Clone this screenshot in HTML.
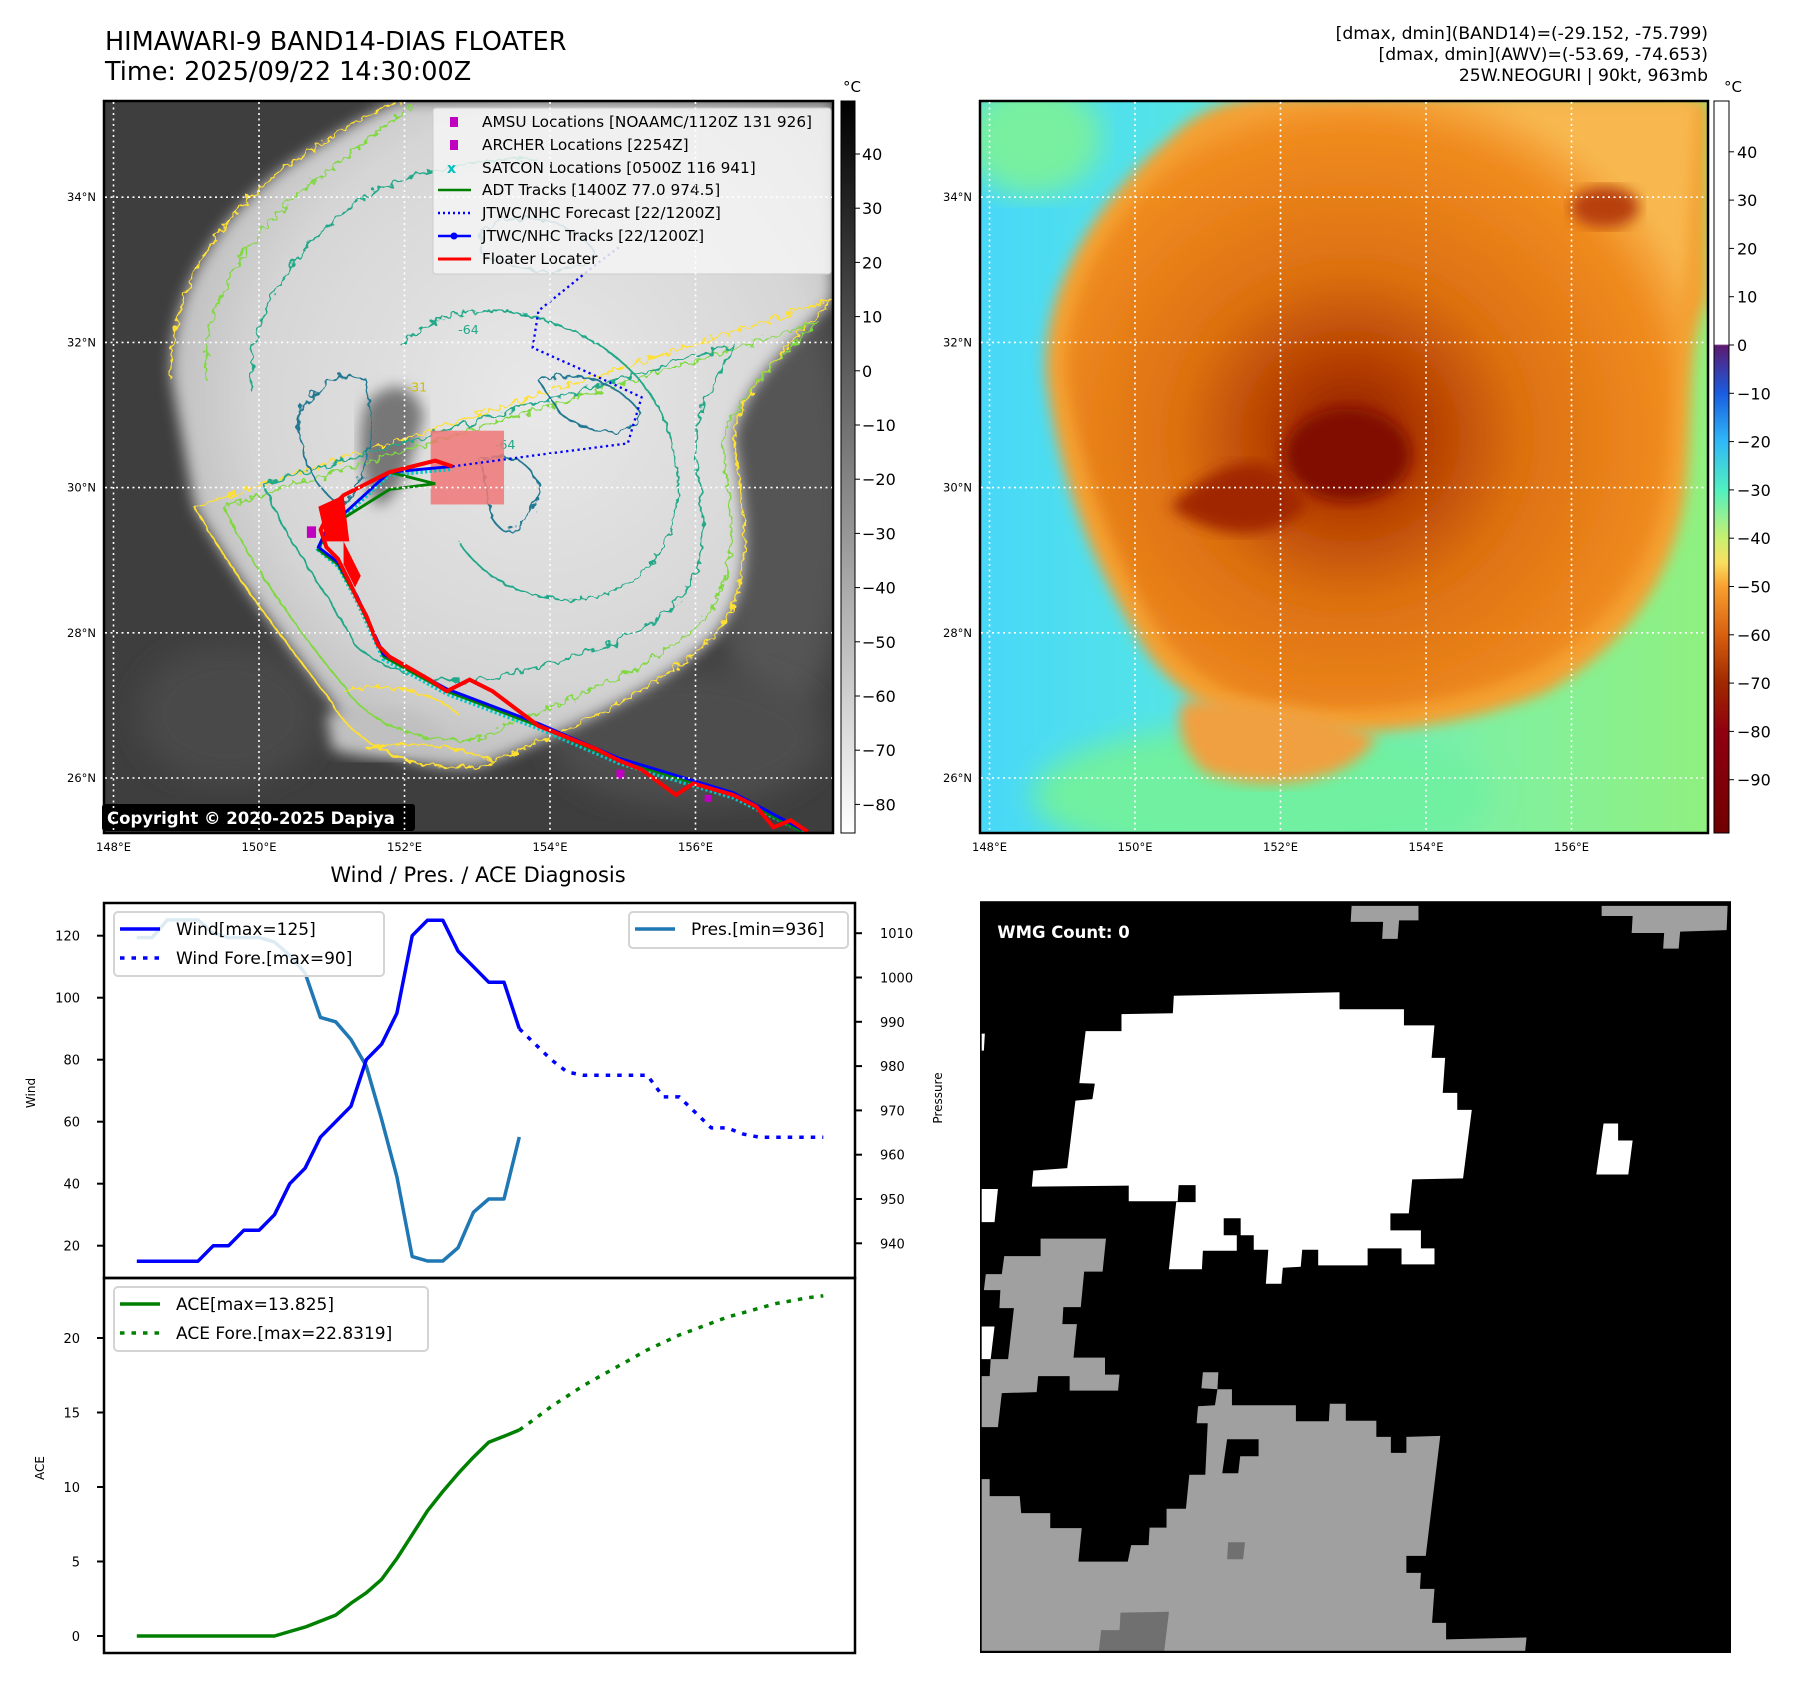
<!DOCTYPE html>
<html><head><meta charset="utf-8"><style>
html,body{margin:0;padding:0;background:#fff;}
svg{display:block;font-family:"DejaVu Sans","Liberation Sans",sans-serif;}
</style></head><body>
<svg id="root" width="1797" height="1690" viewBox="0 0 1797 1690" xmlns="http://www.w3.org/2000/svg">
<defs>
<filter id="blur6"><feGaussianBlur stdDeviation="6"/></filter>
<filter id="blur12"><feGaussianBlur stdDeviation="12"/></filter>
<filter id="jag"><feTurbulence type="fractalNoise" baseFrequency="0.15" numOctaves="2" seed="3"/><feDisplacementMap in="SourceGraphic" scale="9"/></filter>
<filter id="jag2"><feTurbulence type="fractalNoise" baseFrequency="0.12" numOctaves="2" seed="8"/><feDisplacementMap in="SourceGraphic" scale="10"/></filter>
<linearGradient id="cbGray" x1="0" y1="0" x2="0" y2="1"><stop offset="0" stop-color="#000"/><stop offset="1" stop-color="#fff"/></linearGradient>
<linearGradient id="cbColor" x1="0" y1="0" x2="0" y2="1">
<stop offset="0" stop-color="#fff"/><stop offset="0.332" stop-color="#fff"/>
<stop offset="0.334" stop-color="#5c1a70"/><stop offset="0.399" stop-color="#1a5ce0"/>
<stop offset="0.465" stop-color="#30b8f8"/><stop offset="0.531" stop-color="#50f0c0"/>
<stop offset="0.597" stop-color="#c8f070"/><stop offset="0.63" stop-color="#f8e060"/>
<stop offset="0.663" stop-color="#f8a030"/><stop offset="0.729" stop-color="#d86010"/>
<stop offset="0.795" stop-color="#a02800"/><stop offset="0.861" stop-color="#900010"/>
<stop offset="1" stop-color="#700000"/></linearGradient>
<radialGradient id="cloudGray" cx="0.55" cy="0.45" r="0.6"><stop offset="0" stop-color="#e8e8e8"/><stop offset="0.7" stop-color="#d6d6d6"/><stop offset="1" stop-color="#b8b8b8"/></radialGradient>
<radialGradient id="cloudOr" cx="0.45" cy="0.55" r="0.6"><stop offset="0" stop-color="#8a1a00"/><stop offset="0.18" stop-color="#b03a00"/><stop offset="0.45" stop-color="#dc7010"/><stop offset="0.85" stop-color="#f08c20"/><stop offset="1" stop-color="#f8b850"/></radialGradient>
<linearGradient id="bgRight" x1="0" y1="0" x2="1" y2="0"><stop offset="0" stop-color="#48d8f8"/><stop offset="0.35" stop-color="#58e8e0"/><stop offset="0.7" stop-color="#80f0a0"/><stop offset="1" stop-color="#90f080"/></linearGradient>
<clipPath id="clipL"><rect x="91" y="88" width="636" height="635"/></clipPath>
<clipPath id="clipR"><rect x="854" y="88" width="636" height="635"/></clipPath>
</defs>

<text x="105" y="50" font-size="25.5">HIMAWARI-9 BAND14-DIAS FLOATER</text>
<text x="105" y="80" font-size="25.5">Time: 2025/09/22 14:30:00Z</text>
<g font-size="17.2" text-anchor="end">
<text x="1708" y="39">[dmax, dmin](BAND14)=(-29.152, -75.799)</text>
<text x="1708" y="60">[dmax, dmin](AWV)=(-53.69, -74.653)</text>
<text x="1708" y="81">25W.NEOGURI | 90kt, 963mb</text>
</g>

<svg x="104" y="101" width="729" height="732" viewBox="91 88 636 635" preserveAspectRatio="none">
<g clip-path="url(#clipL)">
<rect x="91" y="88" width="636" height="635" fill="#3e3e3e"/>
<ellipse cx="680" cy="430" rx="60" ry="200" fill="#555" filter="url(#blur12)"/>
<ellipse cx="600" cy="640" rx="120" ry="60" fill="#4e4e4e" filter="url(#blur12)"/>
<ellipse cx="200" cy="620" rx="80" ry="60" fill="#484848" filter="url(#blur12)"/>
<path d="M150,330 C145,250 200,175 265,135 C300,112 330,95 350,88 L727,88 L727,260 C690,300 650,330 640,380 C650,450 665,520 610,565 C555,610 480,640 420,665 C370,672 310,650 290,610 C260,570 210,510 170,440 Z" fill="url(#cloudGray)" filter="url(#blur6)"/>
<path d="M285,620 C320,612 370,612 390,640 C380,660 320,662 290,650 Z" fill="#c0c0c0" filter="url(#blur6)"/>
<path d="M320,350 C340,330 360,330 370,360 C360,400 350,430 330,440 C315,420 310,380 320,350Z" fill="#777" filter="url(#blur6)"/>
<g fill="none" stroke-width="1.6">
<path d="M150,330 C145,250 200,175 265,135 C300,112 330,95 350,88 M727,260 C690,300 650,330 640,380 C650,450 665,520 610,565 C555,610 480,640 420,665 C370,672 310,650 290,610 C260,570 210,510 170,440 Z" stroke="#ffe033" filter="url(#jag)"/>
<path d="M180,330 C175,260 225,190 285,150 C310,130 340,105 360,92 M715,280 C680,310 645,340 630,385 C640,450 650,510 600,550 C545,595 480,610 420,640 C380,650 320,630 300,595 C270,560 225,500 195,440 Z" stroke="#80d840" filter="url(#jag)"/>
<path d="M220,340 C215,270 260,210 320,170 C360,150 420,135 470,140 M640,300 C620,340 600,360 610,420 C620,480 610,520 560,545 C520,570 460,580 420,590 C380,595 330,580 310,560 C290,520 250,470 230,420 Z" stroke="#20a888" filter="url(#jag2)"/>
<path d="M350,300 C380,270 430,260 480,280 C540,300 580,340 590,400 C600,460 570,510 510,520 C460,525 420,500 400,470" stroke="#20a888" filter="url(#jag)"/>
<path d="M260,360 C280,330 300,320 320,330 C330,380 320,420 300,440 C280,430 260,400 260,360Z M420,200 C450,180 500,190 520,220 C500,240 460,240 420,220Z M470,330 C500,320 540,330 560,360 C550,380 520,380 490,360Z M420,400 C440,390 470,400 470,430 C460,460 440,470 430,450Z" stroke="#207890" filter="url(#jag2)"/>
<path d="M300,600 C330,590 380,600 400,620 M320,650 C360,640 400,650 430,660" stroke="#ffe033" filter="url(#jag)"/>
</g>
<g font-size="11" fill="#20a888"><text x="400" y="290">-64</text><text x="432" y="390">-64</text><text x="355" y="340" fill="#ccc000">-31</text></g>
<rect x="376" y="374" width="64" height="64" fill="#f07878" opacity="0.85"/>
<polyline points="395,405 470,395 548,385 560,345 510,322 465,302 470,270 520,230 540,215" fill="none" stroke="#0000ff" stroke-width="2" stroke-dasharray="2 3"/>
<polyline points="702,722 640,692 540,662 470,632 390,602 335,572 312,522 296,492 278,477 285,462 340,412 395,407" fill="none" stroke="#00c8c8" stroke-width="4" stroke-dasharray="2 2"/>
<polyline points="700,722 640,690 540,660 470,630 390,600 335,570 312,520 295,490 278,477 287,458 340,425 380,420 340,410" fill="none" stroke="#008000" stroke-width="2.5"/>
<polyline points="700,720 640,688 540,658 470,628 390,598 335,568 312,518 295,488 278,475 285,460 340,410 395,405" fill="none" stroke="#0000ff" stroke-width="2.5"/>
<polyline points="705,722 690,712 675,718 660,700 640,690 605,680 590,690 560,668 540,660 520,650 470,630 430,600 410,590 390,600 375,590 340,570 330,560 320,535 312,520 305,505 295,485 285,475 280,460 290,440 300,430 340,410 380,400 395,405" fill="none" stroke="#ff0000" stroke-width="3.5"/>
<path d="M278,440 L300,430 L305,470 L285,470 Z M300,470 L315,500 L310,510 L300,490Z" fill="#ff0000"/>
<rect x="268" y="457" width="8" height="10" fill="#c000c0"/><rect x="538" y="668" width="7" height="8" fill="#c000c0"/><rect x="615" y="690" width="6" height="6" fill="#c000c0"/>
</g>
</svg>
<rect x="104" y="101" width="729" height="732" fill="none" stroke="#000" stroke-width="2.5"/>

<svg x="980" y="101" width="728" height="732" viewBox="854 88 636 635" preserveAspectRatio="none">
<g clip-path="url(#clipR)">
<rect x="854" y="88" width="636" height="635" fill="url(#bgRight)"/>
<ellipse cx="1100" cy="690" rx="200" ry="60" fill="#70f0a0" filter="url(#blur12)"/>
<ellipse cx="900" cy="120" rx="60" ry="50" fill="#78f0a0" filter="url(#blur12)"/>
<path d="M912,330 C905,250 960,170 1020,120 C1040,100 1060,92 1080,88 L1490,88 L1490,260 C1470,300 1478,360 1470,430 C1460,500 1420,560 1350,600 C1280,630 1200,640 1120,635 C1060,630 1010,590 990,550 C960,500 925,430 912,330 Z" fill="#f4a030" filter="url(#blur6)"/>
<path d="M930,330 C925,250 975,180 1035,130 C1060,108 1080,95 1100,88 L1480,88 L1470,250 C1455,300 1462,360 1452,430 C1440,495 1400,545 1340,580 C1270,612 1195,620 1125,615 C1070,610 1025,575 1005,540 C978,495 945,425 930,330 Z" fill="url(#cloudOr)" filter="url(#blur6)"/>
<path d="M1030,610 C1080,600 1160,620 1200,640 C1180,680 1100,690 1050,670 C1030,650 1025,630 1030,610Z" fill="#f0a040" filter="url(#blur6)"/>
<ellipse cx="1175" cy="395" rx="55" ry="40" fill="#801000" filter="url(#blur6)"/>
<path d="M1020,440 C1060,400 1110,380 1140,440 C1110,470 1060,470 1020,440Z" fill="#a02800" filter="url(#blur6)"/>
<ellipse cx="1400" cy="180" rx="30" ry="18" fill="#b84010" filter="url(#blur6)"/>
</g>
</svg>
<rect x="980" y="101" width="728" height="732" fill="none" stroke="#000" stroke-width="2.5"/>

<g>
<rect x="433" y="108" width="398" height="166" rx="3" fill="#f4f4f4" fill-opacity="0.85" stroke="#ccc"/>
<g font-size="15.3">
<rect x="450" y="117" width="8" height="10" fill="#c000c0"/><text x="482" y="127">AMSU Locations [NOAAMC/1120Z 131 926]</text>
<rect x="450" y="140" width="8" height="10" fill="#c000c0"/><text x="482" y="150">ARCHER Locations [2254Z]</text>
<text x="447" y="173" fill="#00c0c0" font-size="14" font-weight="bold">x</text><text x="482" y="173">SATCON Locations [0500Z 116 941]</text>
<line x1="438" y1="190" x2="471" y2="190" stroke="#008000" stroke-width="2.5"/><text x="482" y="195">ADT Tracks [1400Z 77.0 974.5]</text>
<line x1="438" y1="213" x2="471" y2="213" stroke="#0000ff" stroke-width="2.5" stroke-dasharray="2 3"/><text x="482" y="218">JTWC/NHC Forecast [22/1200Z]</text>
<line x1="438" y1="236" x2="471" y2="236" stroke="#0000ff" stroke-width="2.5"/><circle cx="454" cy="236" r="3.5" fill="#0000ff"/><text x="482" y="241">JTWC/NHC Tracks [22/1200Z]</text>
<line x1="438" y1="259" x2="471" y2="259" stroke="#ff0000" stroke-width="3"/><text x="482" y="264">Floater Locater</text>
</g></g>

<rect x="102" y="804" width="313" height="27" rx="3" fill="#000"/>
<text x="107" y="824" font-size="16.5" font-weight="bold" fill="#fff">Copyright © 2020-2025 Dapiya</text>

<g id="mapGrid"></g>
<g id="cbars"></g>

<text x="478" y="882" font-size="21" text-anchor="middle">Wind / Pres. / ACE Diagnosis</text>
<g id="chart"></g>

<svg x="980" y="900" width="751" height="753" viewBox="0 0 1550 1550" preserveAspectRatio="none">
<rect x="0" y="5" width="1548" height="1543" fill="#000"/>
<g fill="#fff">
<polygon points="400,197 742,190 742,225 875,225 875,258 938,258 932,325 960,325 955,397 985,397 985,432 1015,432 997,573 892,575 885,645 847,645 847,680 910,680 910,717 938,717 938,750 870,750 870,717 800,717 800,752 698,752 698,720 665,720 662,755 625,757 622,790 590,790 595,720 565,720 565,690 538,690 538,655 503,655 503,690 530,690 530,722 460,722 458,760 390,760 405,622 445,622 445,587 410,587 408,620 307,620 307,588 107,590 110,557 180,552 197,413 232,410 237,378 205,377 218,270 292,270 292,235 398,233"/>
<polygon points="1287,460 1317,460 1317,495 1347,495 1338,565 1272,565"/>
<polygon points="0,595 37,595 30,663 0,663"/>
<polygon points="0,878 30,878 22,945 0,945"/>
<polygon points="0,275 10,275 8,310 0,310"/>
</g>
<g fill="#a0a0a0">
<polygon points="767,12 905,12 905,42 865,42 862,80 830,80 832,45 765,45"/>
<polygon points="1283,12 1543,12 1541,62 1445,65 1442,100 1410,100 1412,68 1345,68 1347,33 1283,33"/>
<polygon points="125,697 260,697 253,765 215,765 208,838 172,838 170,873 200,873 193,942 258,942 258,977 288,977 285,1010 185,1010 185,980 120,980 117,1013 45,1015 37,1085 0,1085 0,980 20,980 22,945 58,945 70,840 40,840 42,803 8,803 12,770 45,770 50,733 125,733"/>
<polygon points="0,1192 20,1192 20,1227 82,1227 85,1262 145,1262 145,1293 210,1293 203,1362 305,1362 312,1328 348,1328 350,1292 385,1292 385,1253 425,1253 432,1183 465,1183 470,1077 447,1077 450,1042 485,1040 490,1007 457,1005 460,972 492,972 490,1007 520,1007 520,1040 652,1040 652,1073 720,1073 722,1037 755,1037 755,1072 818,1072 818,1105 848,1105 848,1138 880,1138 880,1105 950,1103 920,1350 880,1350 880,1385 910,1385 908,1418 938,1418 933,1488 962,1488 962,1522 1128,1518 1125,1548 0,1548"/>
</g>
<polygon points="510,1110 575,1110 575,1145 537,1145 533,1180 500,1180" fill="#000"/>
<g fill="#707070"><polygon points="512,1322 547,1322 543,1357 510,1357"/><polygon points="290,1467 390,1465 380,1548 245,1548 250,1503 288,1503"/></g>
<rect x="1" y="5" width="1547" height="1543" fill="none" stroke="#000" stroke-width="5"/>
<text x="36" y="78" font-size="34" font-weight="bold" fill="#fff">WMG Count: 0</text>
</svg>
</svg>

<script>
const windObs = [15,15,15,15,15,20,20,25,25,30,40,45,55,60,65,80,85,95,120,125,125,115,110,105,105,90];
const windFcst = [90,85,80,76,75,75,75,75,75,68,68,63,58,58,56,55,55,55,55,55];
const presObs = [1009,1009,1013,1013,1013,1010,1009,1009,1009,1008,1005,1001,991,990,986,980,968,955,937,936,936,939,947,950,950,964];
const aceObs = [0,0,0,0,0,0,0,0,0,0,0.3,0.6,1.0,1.4,2.2,2.9,3.8,5.2,6.8,8.4,9.7,10.9,12.0,13.0,13.4,13.825];
const aceFcst = [13.825,14.6,15.4,16.1,16.8,17.4,18.0,18.6,19.2,19.7,20.2,20.6,21.0,21.4,21.7,22.0,22.3,22.5,22.7,22.83];
const windTicks = [20,40,60,80,100,120];
const presTicks = [940,950,960,970,980,990,1000,1010];
const aceTicks = [0,5,10,15,20];
const lonTicks = [148,150,152,154,156];
const latTicks = [26,28,30,32,34];
const cbGrayTicks = [40,30,20,10,0,-10,-20,-30,-40,-50,-60,-70,-80];
const cbColorTicks = [40,30,20,10,0,-10,-20,-30,-40,-50,-60,-70,-80,-90];

const NS = 'http://www.w3.org/2000/svg';
function mk(tag, attrs, parent, txt){const e=document.createElementNS(NS,tag);for(const k in attrs)e.setAttribute(k,attrs[k]);if(txt!==undefined)e.textContent=txt;parent.appendChild(e);return e;}

const xI = i => i <= 25 ? 136.8 + i*15.3 : 519.3 + (i-25)*16.0;
const yW = v => 1245.7 - (v-20)*3.1;
const yP = p => 1243.3 - (p-940)*4.43;
const yA = v => 1636 - v*14.9;
const lonX = (lon, off) => 113.5 + (lon-148)*72.75 + off;
const latY = lat => 778 - (lat-26)*72.6;
const cbGY = v => 154 - (v-40)*5.42;
const cbCY = v => 345 - v*4.83;

const chart = document.getElementById('chart');
let f1 = mk('rect',{x:104,y:903,width:751,height:375,fill:'none',stroke:'#000','stroke-width':2.5},chart);


let f2 = mk('rect',{x:104,y:1278,width:751,height:375,fill:'none',stroke:'#000','stroke-width':2.5},chart);



function pts(arr, off, yf){return arr.map((v,i)=>xI(i+off).toFixed(1)+','+yf(v).toFixed(1)).join(' ');}

windTicks.forEach(v=>{
  mk('line',{x1:97,x2:104,y1:yW(v),y2:yW(v),stroke:'#000','stroke-width':2},chart);
  const t=mk('text',{x:80,y:yW(v)+5,'font-size':13,'text-anchor':'end'},chart,String(v));
  
  
});
presTicks.forEach(v=>{
  mk('line',{x1:855,x2:862,y1:yP(v),y2:yP(v),stroke:'#000','stroke-width':2},chart);
  const t=mk('text',{x:880,y:yP(v)+5,'font-size':13},chart,String(v));
  
  
});
aceTicks.forEach(v=>{
  mk('line',{x1:97,x2:104,y1:yA(v),y2:yA(v),stroke:'#000','stroke-width':2},chart);
  const t=mk('text',{x:80,y:yA(v)+5,'font-size':13,'text-anchor':'end'},chart,String(v));
  
  
});
let yl1=mk('text',{x:0,y:0,'font-size':12,'text-anchor':'middle',transform:'translate(35,1093) rotate(-90)'},chart,'Wind');


let yl2=mk('text',{x:0,y:0,'font-size':12,'text-anchor':'middle',transform:'translate(942,1098) rotate(-90)'},chart,'Pressure');


let yl3=mk('text',{x:0,y:0,'font-size':12,'text-anchor':'middle',transform:'translate(44,1468) rotate(-90)'},chart,'ACE');



let lp=mk('polyline',{points:pts(presObs,0,yP),fill:'none',stroke:'#1f77b4','stroke-width':3.5,'stroke-linejoin':'round'},chart);


let lw=mk('polyline',{points:pts(windObs,0,yW),fill:'none',stroke:'#0000ff','stroke-width':3.5,'stroke-linejoin':'round'},chart);


let lwf=mk('polyline',{points:pts(windFcst,windObs.length-1,yW),fill:'none',stroke:'#0000ff','stroke-width':3.5,'stroke-dasharray':'4.5 7'},chart);


let la=mk('polyline',{points:pts(aceObs,0,yA),fill:'none',stroke:'#008000','stroke-width':3.5,'stroke-linejoin':'round'},chart);


let laf=mk('polyline',{points:pts(aceFcst,aceObs.length-1,yA),fill:'none',stroke:'#008000','stroke-width':3.5,'stroke-dasharray':'4.5 7'},chart);



function legend(name,x,y,w,h,items){
  const g=mk('g',{},chart);
  
  
  mk('rect',{x:x,y:y,width:w,height:h,rx:4,fill:'#fff','fill-opacity':0.85,stroke:'#d4d4d4','stroke-width':2},g);
  items.forEach((it,k)=>{
    const cy=y+17+k*29;
    const a={x1:x+6,x2:x+46,y1:cy,y2:cy,stroke:it.c,'stroke-width':3.5};
    if(it.d)a['stroke-dasharray']='4.5 7';
    mk('line',a,g);
    mk('text',{x:x+62,y:cy+6,'font-size':17},g,it.t);
  });
}
legend('wind-legend',114,912,270,64,[{c:'#0000ff',t:'Wind[max=125]'},{c:'#0000ff',t:'Wind Fore.[max=90]',d:1}]);
legend('pressure-legend',629,912,219,36,[{c:'#1f77b4',t:'Pres.[min=936]'}]);
legend('ace-legend',114,1287,314,64,[{c:'#008000',t:'ACE[max=13.825]'},{c:'#008000',t:'ACE Fore.[max=22.8319]',d:1}]);

const grid=document.getElementById('mapGrid');
[[0,104,833],[876,980,1708]].forEach(([off,x0,x1],mi)=>{
  lonTicks.forEach(l=>{
    const x=lonX(l,off);
    mk('line',{x1:x,x2:x,y1:102,y2:832,stroke:'#fff','stroke-width':1.6,'stroke-dasharray':'2 3.5'},grid);
    const t=mk('text',{x:x,y:851,'font-size':11.5,'text-anchor':'middle'},grid,l+'°E');
    
    
  });
  latTicks.forEach(l=>{
    const y=latY(l);
    mk('line',{x1:x0+1,x2:x1-1,y1:y,y2:y,stroke:'#fff','stroke-width':1.6,'stroke-dasharray':'2 3.5'},grid);
    const t=mk('text',{x:x0-8,y:y+4,'font-size':11.5,'text-anchor':'end'},grid,l+'°N');
    
    
  });
});

const cb=document.getElementById('cbars');
let c1=mk('rect',{x:841,y:101,width:14,height:732,fill:'url(#cbGray)',stroke:'#000','stroke-width':1},cb);


mk('text',{x:852,y:92,'font-size':15,'text-anchor':'middle'},cb,'°C');
cbGrayTicks.forEach(v=>{
  mk('line',{x1:855,x2:860,y1:cbGY(v),y2:cbGY(v),stroke:'#000','stroke-width':1},cb);
  const t=mk('text',{x:862,y:cbGY(v)+6,'font-size':16},cb,(v<0?'\u2212'+(-v):String(v)));
  
  
});
let c2=mk('rect',{x:1714,y:101,width:15,height:732,fill:'url(#cbColor)',stroke:'#000','stroke-width':1},cb);


mk('text',{x:1733,y:92,'font-size':15,'text-anchor':'middle'},cb,'°C');
cbColorTicks.forEach(v=>{
  mk('line',{x1:1729,x2:1734,y1:cbCY(v),y2:cbCY(v),stroke:'#000','stroke-width':1},cb);
  const t=mk('text',{x:1737,y:cbCY(v)+6,'font-size':16},cb,(v<0?'\u2212'+(-v):String(v)));
  
  
});
</script>
</body></html>
